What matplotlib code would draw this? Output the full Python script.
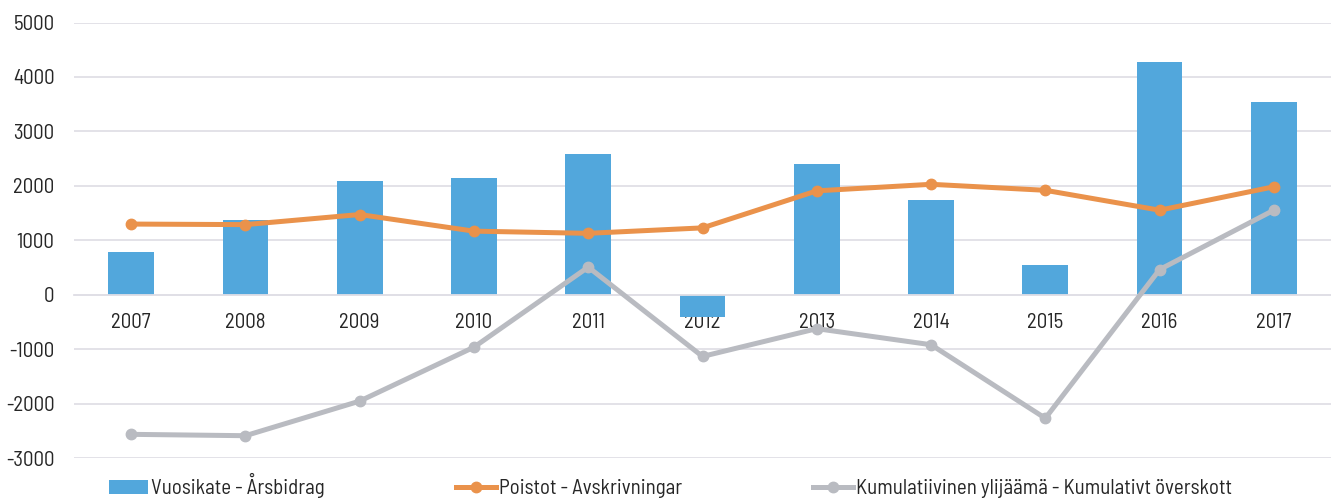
import numpy as np
import matplotlib.pyplot as plt

years = ["2007", "2008", "2009", "2010", "2011", "2012", "2013", "2014", "2015", "2016", "2017"]
vuosikate = [780, 1370, 2090, 2150, 2590, -400, 2410, 1740, 555, 4270, 3535]
poistot = [1300, 1290, 1475, 1170, 1130, 1230, 1910, 2030, 1920, 1555, 1985]
kumulatiivinen = [-2560, -2585, -1950, -960, 510, -1130, -620, -915, -2265, 465, 1555]

labels = ["Vuosikate - Årsbidrag", "Poistot - Avskrivningar",
          "Kumulatiivinen ylijäämä - Kumulativt överskott"]

plt.rcParams['font.family'] = ['Barlow Semi Condensed', 'DejaVu Sans']
plt.rcParams['axes.unicode_minus'] = False

fig = plt.figure(figsize=(13.31, 4.98), dpi=100)
ax = fig.add_axes([0.0556, 0.0797, 0.9444, 0.8751])

x = np.arange(len(years))
b = ax.bar(x, vuosikate, width=0.4, color="#52A7DC", zorder=2)
l1, = ax.plot(x, poistot, color="#EA924B", lw=3.6, marker="o", ms=7.5, zorder=3)
l2, = ax.plot(x, kumulatiivinen, color="#B9BBC1", lw=3.6, marker="o", ms=7.5, zorder=3)

ax.set_xlim(-0.5, len(years) - 0.5)
ax.set_ylim(-3000, 5000)
ax.set_yticks(np.arange(-3000, 5001, 1000))
ax.yaxis.grid(True, color="#E0DFE6", lw=1.3, zorder=0)
ax.set_axisbelow(True)

for s in ["top", "right", "left"]:
    ax.spines[s].set_visible(False)
ax.spines["bottom"].set_position(("data", 0))
ax.spines["bottom"].set_color("#E0DFE6")
ax.spines["bottom"].set_linewidth(1.3)

ax.set_xticks(x)
ax.set_xticklabels(years)
ax.tick_params(axis="x", length=0, pad=13, labelsize=15, labelcolor="#262626")
ax.tick_params(axis="y", length=0, pad=14, labelsize=15, labelcolor="#262626")

fig.legend([b, l1, l2], labels, loc="lower left", bbox_to_anchor=(0.0675, -0.038),
           ncol=3, frameon=False, fontsize=15, handlelength=1.9, handletextpad=0.15,
           columnspacing=6.3, labelcolor="#262626")

fig.savefig("out.png", dpi=100)
